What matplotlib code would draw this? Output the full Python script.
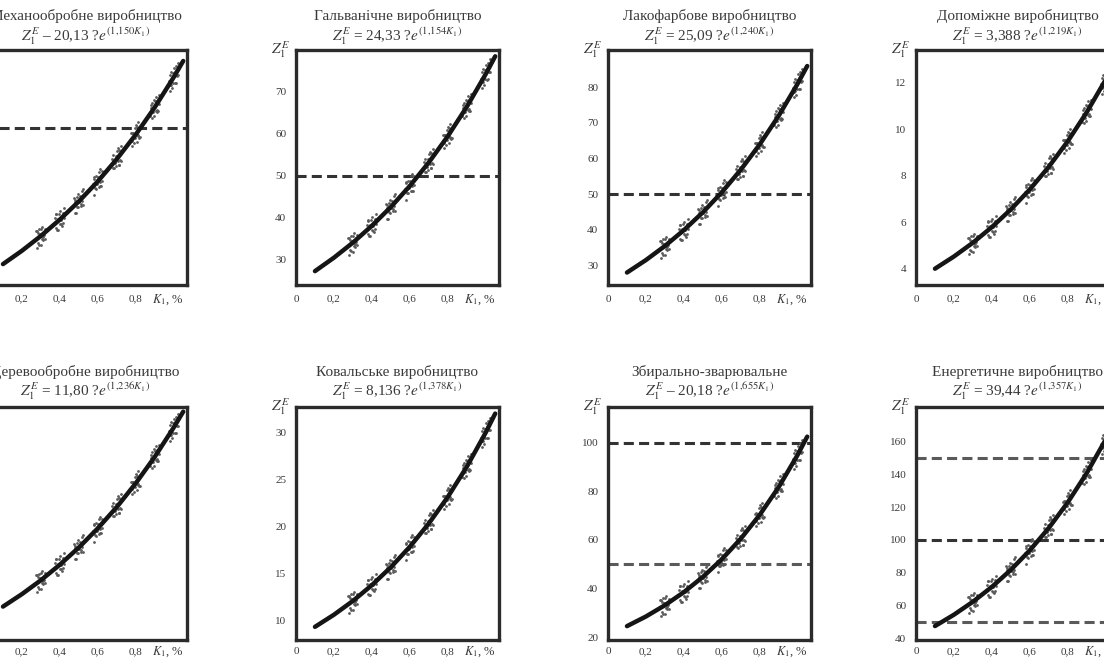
import numpy as np
import matplotlib
matplotlib.use("Agg")
import matplotlib.pyplot as plt

# ---------------- data ----------------
titles = [
    "Механообробне виробництво",
    "Гальванічне виробництво",
    "Лакофарбове виробництво",
    "Допоміжне виробництво",
    "Деревообробне виробництво",
    "Ковальське виробництво",
    "Збирально-зварювальне",
    "Енергетичне виробництво",
]
formulas = [
    r"$Z_1^E$ – 20,13 ?$e^{(1{,}150K_1)}$",
    r"$Z_1^E$ = 24,33 ?$e^{(1{,}154K_1)}$",
    r"$Z_1^E$ = 25,09 ?$e^{(1{,}240K_1)}$",
    r"$Z_1^E$ = 3,388 ?$e^{(1{,}219K_1)}$",
    r"$Z_1^E$ = 11,80 ?$e^{(1{,}236K_1)}$",
    r"$Z_1^E$ = 8,136 ?$e^{(1{,}378K_1)}$",
    r"$Z_1^E$ – 20,18 ?$e^{(1{,}655K_1)}$",
    r"$Z_1^E$ = 39,44 ?$e^{(1{,}357K_1)}$",
]

k_values = [0.1, 0.2, 0.3, 0.4, 0.5, 0.6, 0.7, 0.8, 0.9, 1.0, 1.05]

z_mech = [24.0, 26.56, 29.40, 32.54, 36.01, 39.85, 44.11, 48.81, 54.02, 59.79, 62.9]
z_galv = [27.3, 30.51, 34.10, 38.11, 42.59, 47.60, 53.20, 59.45, 66.44, 74.26, 78.5]
z_lak = [28.0, 31.51, 35.46, 39.91, 44.91, 50.54, 56.88, 64.01, 72.04, 81.07, 86.0]
z_dop = [4.0, 4.525, 5.118, 5.790, 6.549, 7.408, 8.380, 9.479, 10.723, 12.129, 12.9]
z_der = [14.3, 15.91, 17.70, 19.70, 21.91, 24.38, 27.12, 30.18, 33.58, 37.36, 39.4]
z_koval = [9.3, 10.59, 12.06, 13.74, 15.65, 17.82, 20.30, 23.12, 26.33, 29.98, 32.0]
z_zbyr = [24.5, 28.48, 33.11, 38.50, 44.76, 52.03, 60.49, 70.33, 81.76, 95.06, 102.5]
z_energ = [47.5, 54.41, 62.32, 71.38, 81.76, 93.65, 107.27, 122.87, 140.73, 161.20, 172.5]

y_limits = [(20, 65), (24, 80), (24.5, 90.5), (3.3, 13.4),
            (10, 40), (7.9, 32.7), (18.8, 114.7), (39, 181)]
# first-column panels are cropped on the left in the reference: no visible y ticks
y_ticks = [[], [30, 40, 50, 60, 70], [30, 40, 50, 60, 70, 80],
           [4, 6, 8, 10, 12], [], [10, 15, 20, 25, 30],
           [20, 40, 60, 80, 100], [40, 60, 80, 100, 120, 140, 160]]
dashed_levels = [[50], [50], [50], [], [], [], [100, 50], [150, 100, 50]]

x_ticks = [0, 0.2, 0.4, 0.6, 0.8]
x_tick_labels = ["0", "0,2", "0,4", "0,6", "0,8"]

# fixed dot pattern for the measurement clusters (K offset, fraction of y span)
jit_dx = [-0.026, -0.022, -0.018, -0.015, -0.012, -0.008, -0.005, -0.002, 0.002,
          0.005, 0.008, 0.011, 0.014, 0.017, 0.020, 0.024, -0.020, 0.012]
jit_dy = [0.018, -0.028, 0.034, -0.012, 0.038, -0.036, 0.024, -0.020, 0.036,
          -0.032, 0.012, -0.038, 0.028, -0.016, 0.034, -0.024, -0.006, 0.006]

series = [z_mech, z_galv, z_lak, z_dop, z_der, z_koval, z_zbyr, z_energ]

# ---------------- layout ----------------
plt.rcParams["font.family"] = ["Liberation Serif", "DejaVu Serif"]
plt.rcParams["mathtext.fontset"] = "stix"

W, H = 1104, 660
fig = plt.figure(figsize=(W / 100, H / 100), dpi=100)
fig.patch.set_facecolor("white")

col_left = [-16, 296, 608, 916]
ax_w = 203
# top, height, title y, formula y, tick pad, K-label offset (px)
rows = [(50, 235, 16, 36, 7, 15), (407, 233, 372, 391, 5, 12)]

txt_col = "#3a3a3a"
line_col = "#151515"

for idx in range(8):
    r, c = divmod(idx, 4)
    top, h, ty, fy, pad, koff = rows[r]
    left = col_left[c]
    ax = fig.add_axes([left / W, 1 - (top + h) / H, ax_w / W, h / H])
    z = series[idx]
    ylo, yhi = y_limits[idx]
    span = yhi - ylo

    # measurement clusters
    for j in range(2, 10):
        slope = (z[j + 1] - z[j - 1]) / (k_values[j + 1] - k_values[j - 1])
        dx = np.roll(jit_dx, j * 5)
        dy = np.roll(jit_dy, j * 3)
        xs = k_values[j] + dx
        ys = z[j] + slope * dx + dy * span
        ax.plot(xs, ys, ls="none", marker="o", ms=2.0, mfc="#5a5a5a", mec="none", zorder=2)

    for lv in dashed_levels[idx]:
        col = "#333333" if lv == 100 or len(dashed_levels[idx]) == 1 else "#5a5a5a"
        ax.axhline(lv, color=col, lw=2.2, dashes=(3.3, 1.7), zorder=1)

    ax.plot(k_values, z, color=line_col, lw=3.2, solid_capstyle="round", zorder=3)

    ax.set_xlim(0, 1.07)
    ax.set_ylim(ylo, yhi)
    if c == 0:
        # the "0" label lies outside the cropped picture for the first column
        ax.set_xticks(x_ticks[1:])
        ax.set_xticklabels(x_tick_labels[1:])
    else:
        ax.set_xticks(x_ticks)
        ax.set_xticklabels(x_tick_labels)
    ax.set_yticks(y_ticks[idx])
    ax.set_yticklabels([str(v) for v in y_ticks[idx]])
    ax.tick_params(length=0, labelsize=8, labelcolor=txt_col, pad=7)
    ax.tick_params(axis="x", pad=pad)
    for sp in ax.spines.values():
        sp.set_linewidth(2.4)
        sp.set_color("#2b2b2b")

    ax.text(0.885, -koff / h, r"$K_1$, %", transform=ax.get_xaxis_transform(),
            ha="left", va="center", fontsize=9, color=txt_col)
    if c > 0:
        ax.text(-6 / ax_w, 1.0, r"$Z_1^E$", transform=ax.transAxes,
                ha="right", va="center", fontsize=11, color=txt_col)

    cx = (left + ax_w / 2) / W
    fig.text(cx, 1 - ty / H, titles[idx], ha="center", va="center",
             fontsize=11, color=txt_col)
    fig.text(cx, 1 - fy / H, formulas[idx], ha="center", va="center",
             fontsize=11, color=txt_col)

fig.savefig("out.png", dpi=100, facecolor="white")
